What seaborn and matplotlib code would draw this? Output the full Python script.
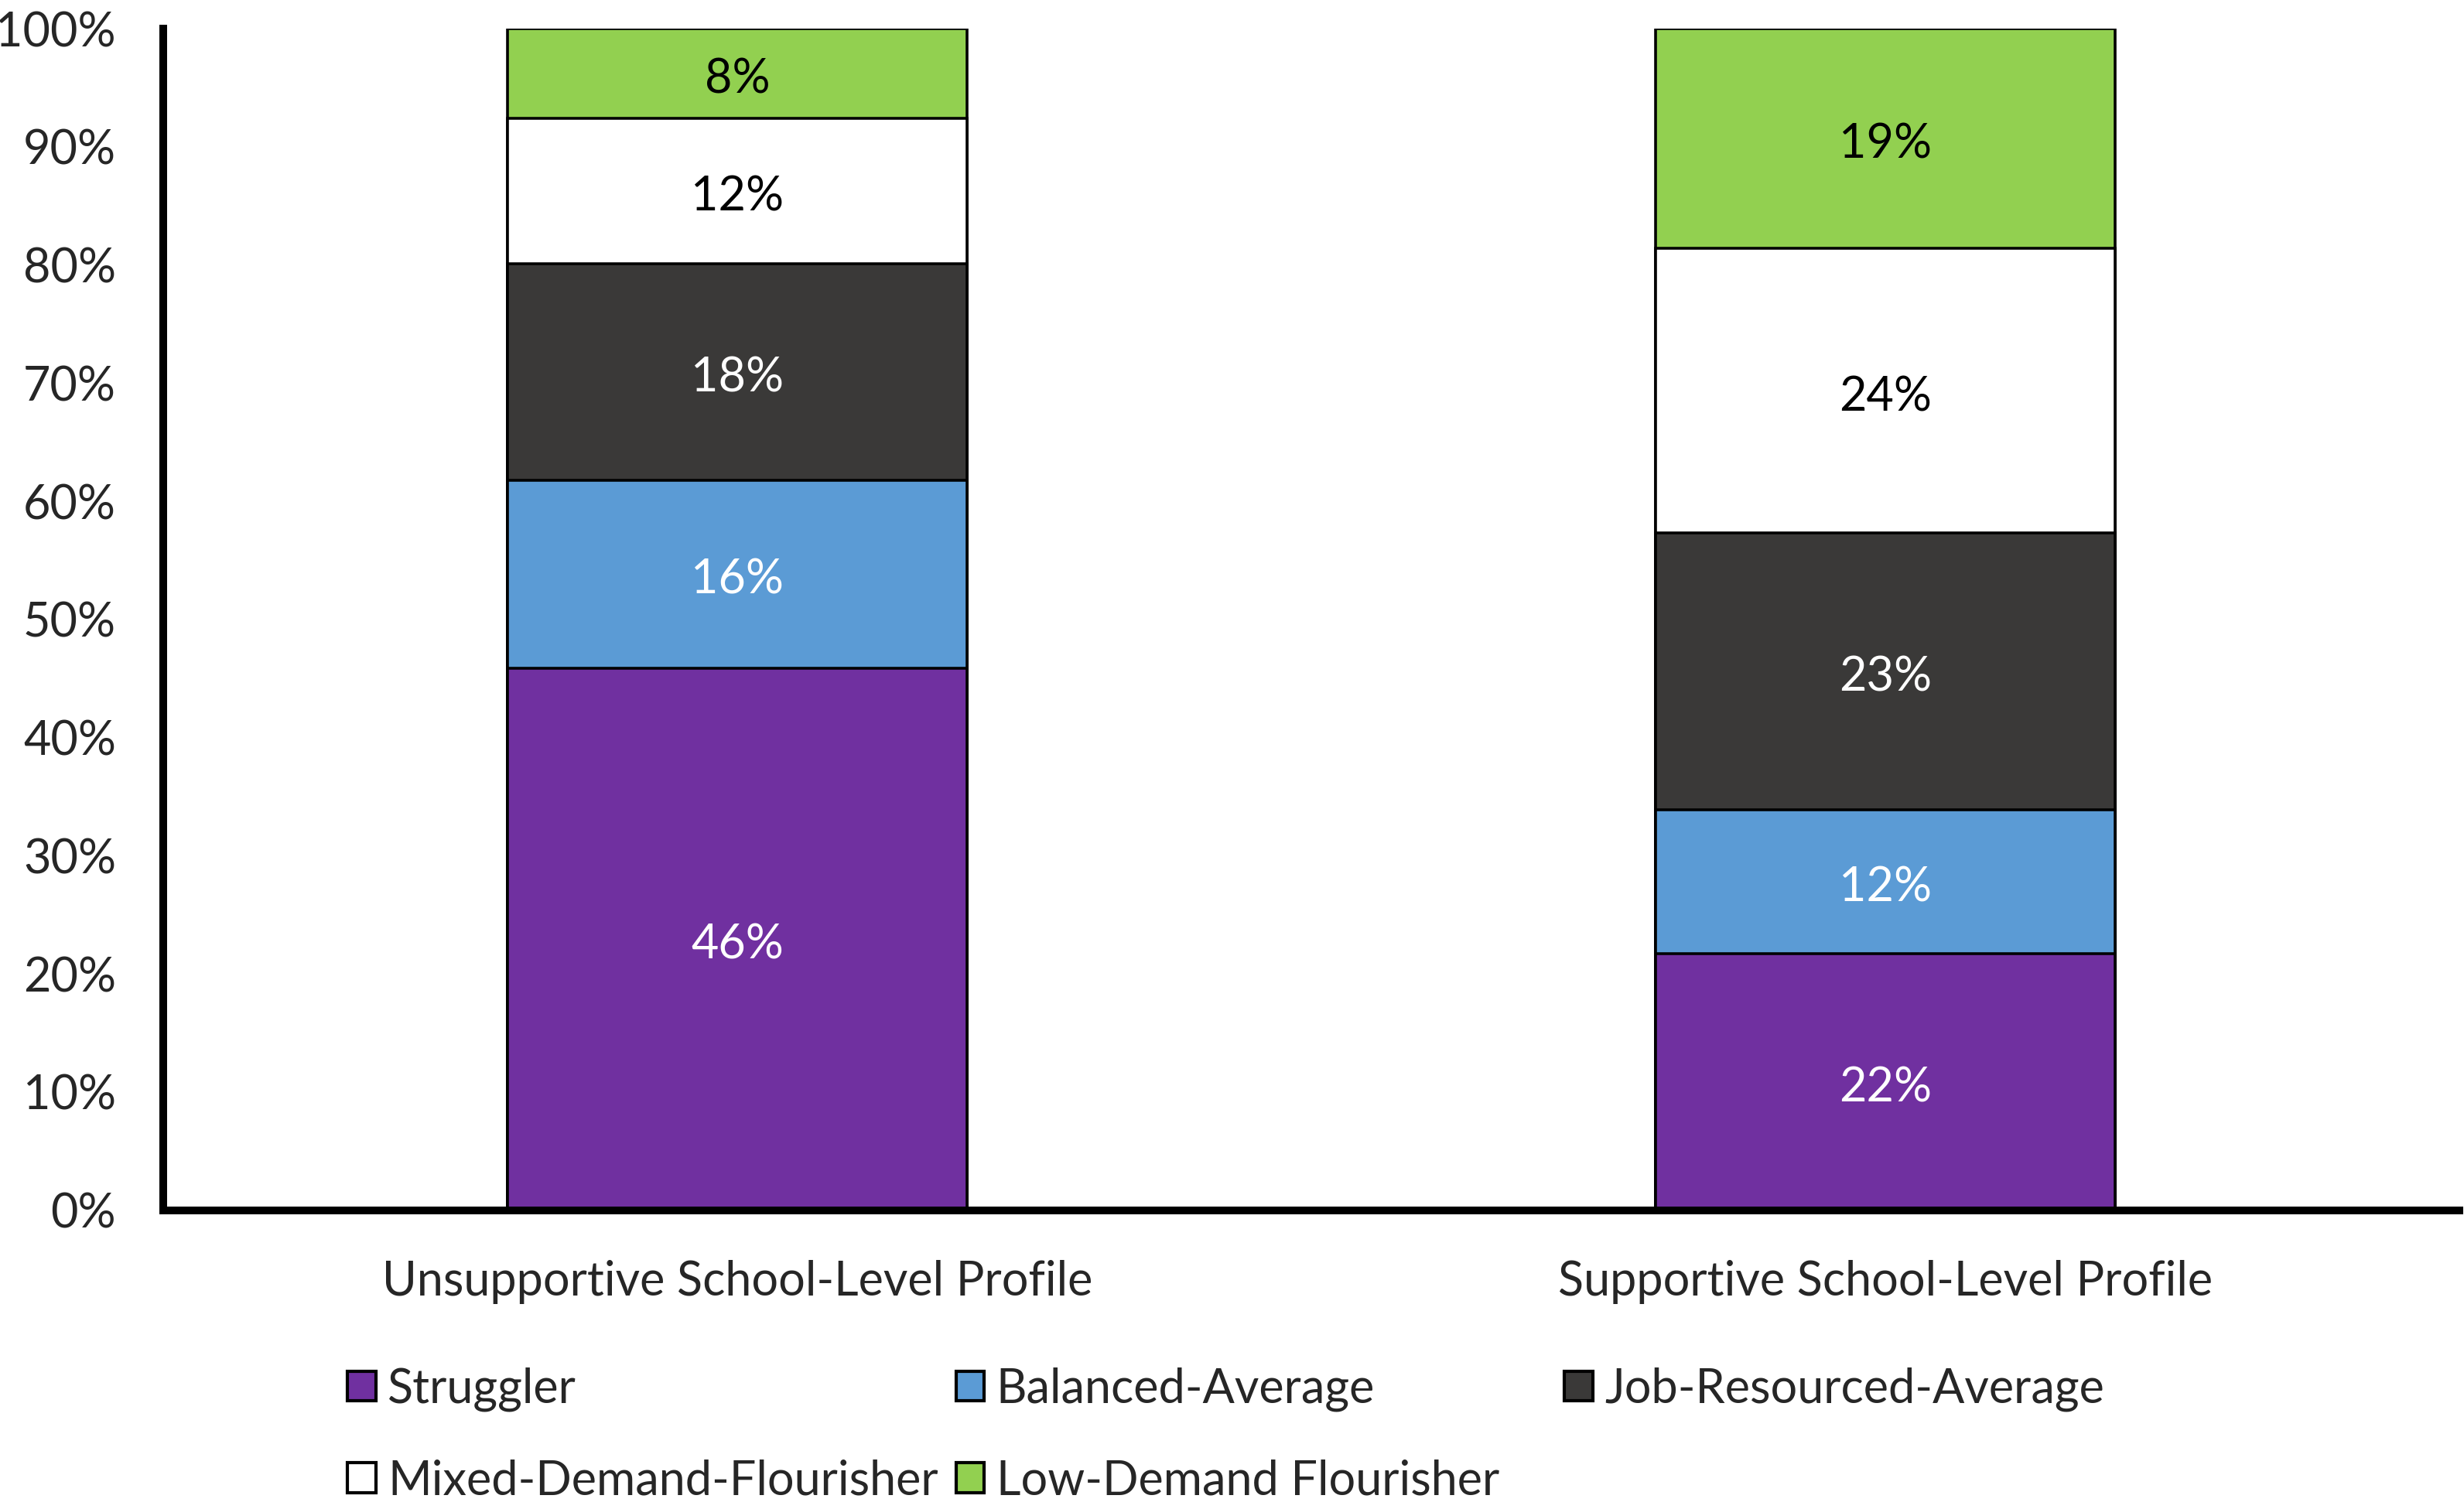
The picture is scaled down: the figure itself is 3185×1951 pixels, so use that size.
import numpy as np
import pandas as pd
import seaborn as sns
import matplotlib.pyplot as plt
from matplotlib.patches import Patch

profiles = ['Unsupportive School-Level Profile', 'Supportive School-Level Profile']
groups = ['Struggler', 'Balanced-Average', 'Job-Resourced-Average',
          'Mixed-Demand-Flourisher', 'Low-Demand Flourisher']
colors = ['#7030A0', '#5B9BD5', '#3A3938', '#FFFFFF', '#92D050']
label_colors = ['white', 'white', 'white', 'black', 'black']

# percentages per group, [unsupportive, supportive]
struggler = [45.9, 21.7]
balanced_avg = [15.9, 12.2]
job_resourced = [18.3, 23.4]
mixed_demand = [12.3, 24.1]
low_demand = [7.6, 18.6]

series = [struggler, balanced_avg, job_resourced, mixed_demand, low_demand]
yticks = list(range(0, 101, 10))

sns.set_style('white')
plt.rcParams['font.family'] = ['Lato', 'DejaVu Sans']
fs = 22

fig = plt.figure(figsize=(15.925, 9.755), dpi=200)
ax = fig.add_axes([0.0663, 0.198, 0.9317, 0.783])

vals = np.array(series)
cum = vals.cumsum(axis=0)

# draw cumulative bars from top segment down so they stack
for i in range(len(groups) - 1, -1, -1):
    df = pd.DataFrame({'profile': profiles, 'top': cum[i]})
    sns.barplot(data=df, x='profile', y='top', color=colors[i], saturation=1,
                width=0.4, edgecolor='black', linewidth=1.3, ax=ax)

for i in range(len(groups)):
    for j in range(len(profiles)):
        ax.annotate(f'{vals[i, j]:.0f}%', (j, cum[i, j] - vals[i, j] / 2),
                    xytext=(0, -3), textcoords='offset points',
                    ha='center', va='center', fontsize=fs, color=label_colors[i])

ax.set_xlim(-0.5, 1.5)
ax.set_ylim(0, 100)
ax.set_yticks(yticks)
ax.set_yticklabels([f'{t}%' for t in yticks])
ax.set_xlabel('')
ax.set_ylabel('')
ax.tick_params(axis='both', length=0, labelsize=fs)
ax.tick_params(axis='y', pad=22)
ax.tick_params(axis='x', pad=23)
for s in ['top', 'right']:
    ax.spines[s].set_visible(False)
for s in ['left', 'bottom']:
    ax.spines[s].set_linewidth(3.6)
    ax.spines[s].set_color('black')

# legend laid out in three fixed-width columns, like the original
handles = [Patch(facecolor=colors[k], edgecolor='black', linewidth=1.5) for k in range(5)]
columns = [[0, 3], [1, 4], [2]]
col_x = [0.141, 0.388, 0.635]
for cx, col in zip(col_x, columns):
    fig.legend([handles[k] for k in col], [groups[k] for k in col],
               loc='upper left', bbox_to_anchor=(cx, 0.094), ncol=1, frameon=False,
               fontsize=fs, handlelength=0.6, handleheight=0.6, handletextpad=0.25,
               labelspacing=1.0, borderaxespad=0, borderpad=0)

fig.savefig('out.png', dpi=200)
